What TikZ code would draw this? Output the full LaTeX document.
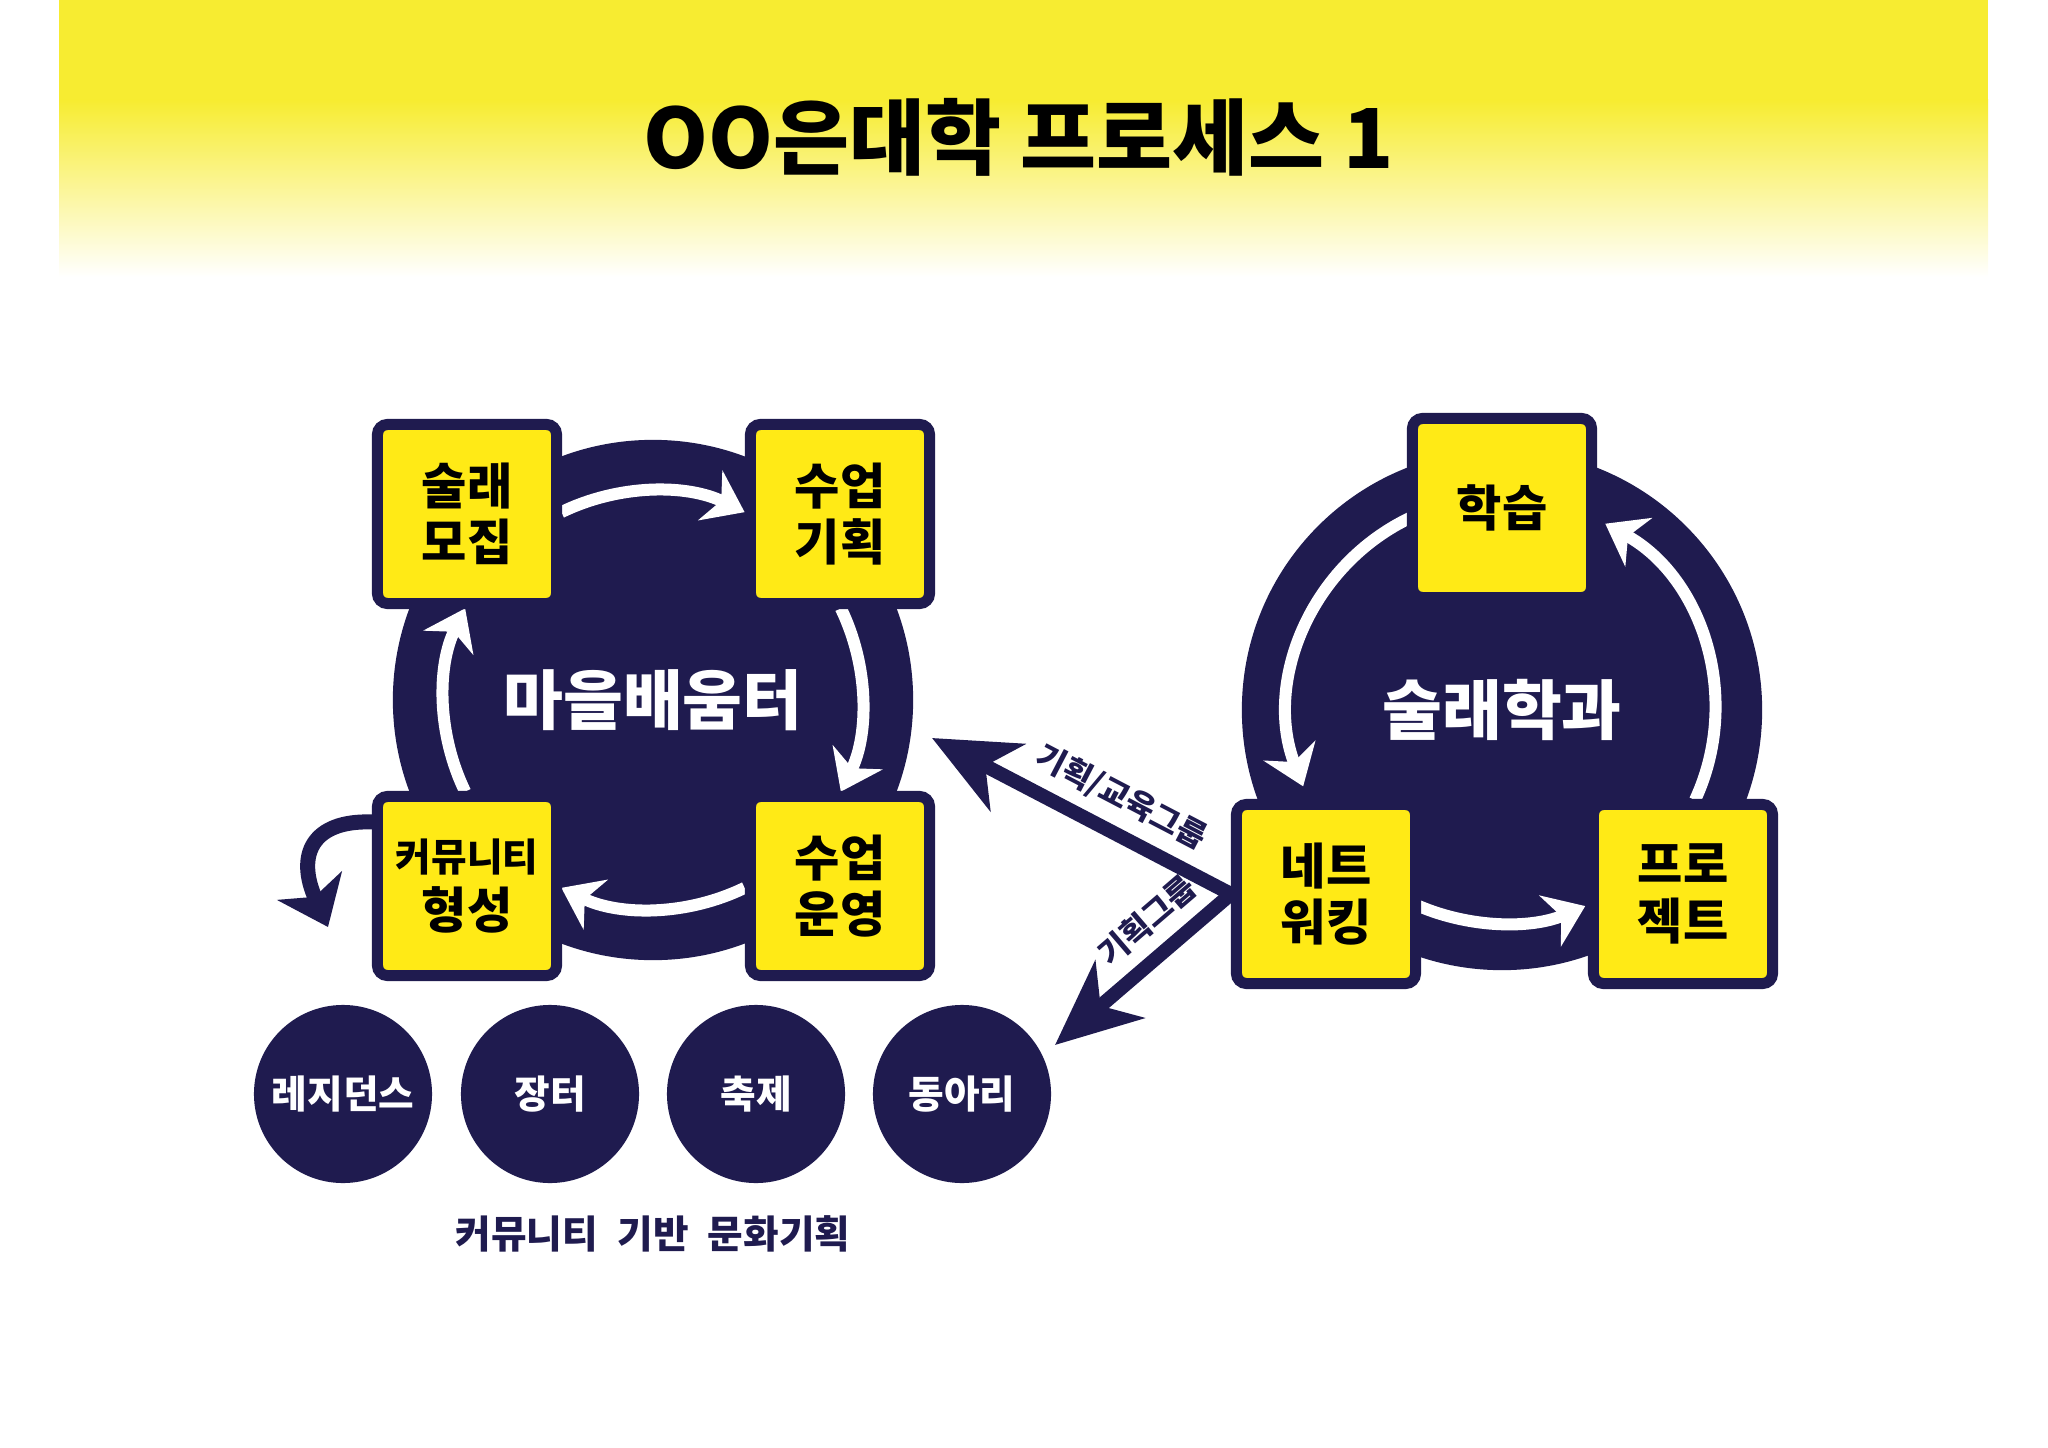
\documentclass[tikz,border=0pt]{standalone}
\usepackage{fontspec}
\setmainfont{Noto Sans CJK KR}[BoldFont={Noto Sans CJK KR Black}]
\usetikzlibrary{arrows.meta}

\definecolor{navy}{HTML}{1F1B4F}
\definecolor{boxyellow}{HTML}{FFEA16}
\definecolor{titleyellow}{HTML}{F7EC31}

\begin{document}
\begin{tikzpicture}[
  x=0.01cm, y=0.01cm,
  box/.style={rectangle, rounded corners=0.1cm, fill=boxyellow, draw=navy, line width=0.11cm,
    minimum size=1.79cm, inner sep=0pt, align=center, font=\bfseries\fontsize{14pt}{16pt}\selectfont},
  hub/.style={circle, fill=navy, minimum size=5.2cm, inner sep=0pt, text=white,
    font=\bfseries\fontsize{18.5pt}{20pt}\selectfont},
  dot/.style={circle, fill=navy, minimum size=1.78cm, inner sep=0pt, text=white,
    font=\bfseries\fontsize{11pt}{13pt}\selectfont},
  lbl/.style={text=navy, inner sep=1pt, font=\bfseries\fontsize{9pt}{10pt}\selectfont},
  loop/.style={white, line width=0.12cm, -{Stealth[length=0.38cm, width=0.55cm, inset=0.12cm]}},
  link/.style={navy, line width=0.14cm, -{Stealth[length=0.85cm, width=0.75cm, inset=0.25cm]}},
  curl/.style={navy, line width=0.15cm, -{Stealth[length=0.45cm, width=0.7cm, inset=0.12cm]}}
]
  \useasboundingbox (0,0) rectangle (2048,1447);

  % Title band
  \fill[titleyellow] (59,1447) rectangle (1988,1347);
  \shade[top color=titleyellow, bottom color=white] (59,1347) rectangle (1988,1170);
  \node[font=\bfseries\fontsize{23.5pt}{28pt}\selectfont] (title) at (1019,1310) {OO은대학 프로세스 1};

  % Left cycle
  \node[hub] (mL) at (653,747) {마을배움터};
  \foreach \a in {90, 0, -90, 180}
    \draw[loop] ([shift={(\a+26:209)}]mL.center) arc[start angle=\a+26, end angle=\a-26, radius=209];
  \node[box] (recruit) at (467,933) {술래\\모집};
  \node[box] (plan) at (840,933) {수업\\기획};
  \node[box] (comm) at (467,561) {\fontsize{11pt}{16pt}\selectfont 커뮤니티\\형성};
  \node[box] (run) at (840,561) {수업\\운영};

  % Right cycle
  \node[hub] (hL) at (1502,737) {술래학과};
  \foreach \a/\b in {115/201, 247/293, -25/61}
    \draw[loop] ([shift={(\a:213)}]hL.center) arc[start angle=\a, end angle=\b, radius=213];
  \node[box] (study) at (1502,939) {학습};
  \node[box] (net) at (1326,553) {네트\\워킹};
  \node[box] (proj) at (1683,553) {프로\\젝트};

  % Bottom circles
  \node[dot] (res) at (343,353) {레지던스};
  \node[dot] (market) at (550,353) {장터};
  \node[dot] (fest) at (756,353) {축제};
  \node[dot] (club) at (962,353) {동아리};
  \node[text=navy, font=\bfseries\fontsize{11pt}{13pt}\selectfont] (caption) at (653,213)
    {커뮤니티\enspace 기반\enspace 문화기획};

  % Links
  \coordinate (planTip) at (932,709);
  \coordinate (clubTip) at (1055,402);
  \coordinate (commTip) at (328,520);
  \draw[link] (net.west) -- node[lbl, pos=0.42, sloped, above=0.08cm] {기획/교육그룹} (planTip);
  \draw[link] (net.west) -- node[lbl, pos=0.35, sloped, above=0.09cm] {기획그룹} (clubTip);
  \draw[curl] ([yshift=0.64cm]comm.west) .. controls (312,627) and (296,592) .. (commTip);
\end{tikzpicture}
\end{document}
